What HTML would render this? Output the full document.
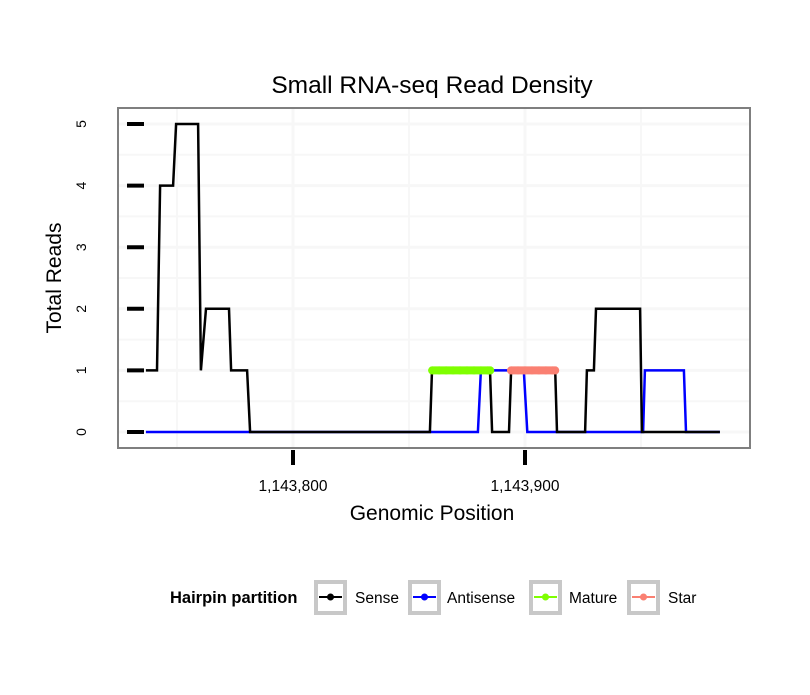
<!DOCTYPE html>
<html><head><meta charset="utf-8"><style>
body{margin:0;background:#fff;}
svg text{font-family:"Liberation Sans",sans-serif;}
</style></head><body>
<svg id="chart" width="810" height="690" xmlns="http://www.w3.org/2000/svg">
<rect width="810" height="690" fill="#fff"/>
<text x="432" y="93" text-anchor="middle" font-size="24.5">Small RNA-seq Read Density</text>
<g id="grid"></g>
<g id="series"></g>
<rect x="118" y="108" width="632" height="340" fill="none" stroke="#7f7f7f" stroke-width="2"/>
<g id="axes"></g>
<text x="432" y="520" text-anchor="middle" font-size="21">Genomic Position</text>
<text transform="translate(61,278) rotate(-90)" text-anchor="middle" font-size="21">Total Reads</text>
<g>
<text x="170" y="603" font-size="16.5" font-weight="bold">Hairpin partition</text>
<g>
<rect x="316" y="582" width="29" height="31" fill="#fff" stroke="#c8c8c8" stroke-width="4"/>
<line x1="319" y1="597" x2="342" y2="597" stroke="#000" stroke-width="2"/><circle cx="330.5" cy="597" r="3.5" fill="#000"/>
<text x="355" y="603" font-size="15.5">Sense</text></g>
<g>
<rect x="410" y="582" width="29" height="31" fill="#fff" stroke="#c8c8c8" stroke-width="4"/>
<line x1="413" y1="597" x2="436" y2="597" stroke="#00f" stroke-width="2"/><circle cx="424.5" cy="597" r="3.5" fill="#00f"/>
<text x="447" y="603" font-size="15.5">Antisense</text></g>
<g>
<rect x="531" y="582" width="29" height="31" fill="#fff" stroke="#c8c8c8" stroke-width="4"/>
<line x1="534" y1="597" x2="557" y2="597" stroke="#7fff00" stroke-width="2"/><circle cx="545.5" cy="597" r="3.5" fill="#7fff00"/>
<text x="569" y="603" font-size="15.5">Mature</text></g>
<g>
<rect x="629" y="582" width="29" height="31" fill="#fff" stroke="#c8c8c8" stroke-width="4"/>
<line x1="632" y1="597" x2="655" y2="597" stroke="#fa8072" stroke-width="2"/><circle cx="643.5" cy="597" r="3.5" fill="#fa8072"/>
<text x="668" y="603" font-size="15.5">Star</text></g>
</g>
</svg>
<script>
const senseX=[1143736.6,1143741.4,1143742.7,1143748.3,1143749.6,1143759.1,1143760.3,1143762.5,1143772.4,1143773.3,1143780.2,1143781.5,1143859,1143859.9,1143884.9,1143885.8,1143893.1,1143894,1143913,1143913.8,1143925.9,1143926.7,1143929.7,1143930.6,1143949.6,1143950.4,1143984];
const senseY=[1,1,4,4,5,5,1,2,2,1,1,0,0,1,1,0,0,1,1,0,0,1,1,2,2,0,0];
const antiX=[1143736.6,1143879.7,1143881,1143899.5,1143901,1143950.9,1143951.7,1143968.5,1143969.4,1143984];
const antiY=[0,0,1,1,0,0,1,1,0,0];
const matureX=[1143860,1143863,1143866,1143869,1143872,1143875,1143878,1143881,1143884,1143885];
const matureY=[1,1,1,1,1,1,1,1,1,1];
const starX=[1143894,1143897,1143900,1143903,1143906,1143909,1143912,1143913];
const starY=[1,1,1,1,1,1,1,1];
const xTicks=[1143800,1143900];
const xTickLabels=["1,143,800","1,143,900"];
const yTicks=[0,1,2,3,4,5];
const NS="http://www.w3.org/2000/svg";
function sx(v){return 293+(v-1143800)*2.32;}
function sy(v){return 432-v*61.6;}
function mk(tag,attrs,parent){const e=document.createElementNS(NS,tag);for(const k in attrs)e.setAttribute(k,attrs[k]);parent.appendChild(e);return e;}
const grid=document.getElementById('grid'),series=document.getElementById('series'),axes=document.getElementById('axes');
for(let v=0;v<=5;v+=0.5){const l=mk('line',{x1:119,x2:749,y1:sy(v),y2:sy(v),stroke:'#f7f7f7','stroke-width':v%1?2:3},grid);

}
for(let v=1143750;v<=1143950;v+=50){const l=mk('line',{x1:sx(v),x2:sx(v),y1:109,y2:447,stroke:'#f7f7f7','stroke-width':v%100?2:3},grid);

}
function path(xs,ys,color,name){const d=xs.map((x,i)=>(i?'L':'M')+sx(x).toFixed(1)+','+sy(ys[i]).toFixed(1)).join('');
const p=mk('path',{d:d,fill:'none',stroke:color,'stroke-width':2.5},series);

}
path(antiX,antiY,'#0000ff','antisense-line');
path(senseX,senseY,'#000000','sense-line');
function pts(xs,ys,color,name){xs.forEach((x,i)=>{const c=mk('circle',{cx:sx(x),cy:sy(ys[i]),r:4,fill:color},series);

});
const l=mk('line',{x1:sx(xs[0]),x2:sx(xs[xs.length-1]),y1:sy(ys[0]),y2:sy(ys[0]),stroke:color,'stroke-width':8,'stroke-linecap':'round'},series);

}
pts(matureX,matureY,'#7fff00','mature-point');
pts(starX,starY,'#fa8072','star-point');
yTicks.forEach(v=>{const t=mk('line',{x1:127,x2:144,y1:sy(v),y2:sy(v),stroke:'#000','stroke-width':4},axes);


const tx=mk('text',{transform:`translate(${86},${sy(v)}) rotate(-90)`,'text-anchor':'middle','font-size':14},axes);tx.textContent=v;

});
xTicks.forEach((v,i)=>{const t=mk('line',{x1:sx(v),x2:sx(v),y1:450,y2:465,stroke:'#000','stroke-width':4},axes);


const tx=mk('text',{x:sx(v),y:491,'text-anchor':'middle','font-size':15.5},axes);tx.textContent=xTickLabels[i];

});
</script>
</body></html>
